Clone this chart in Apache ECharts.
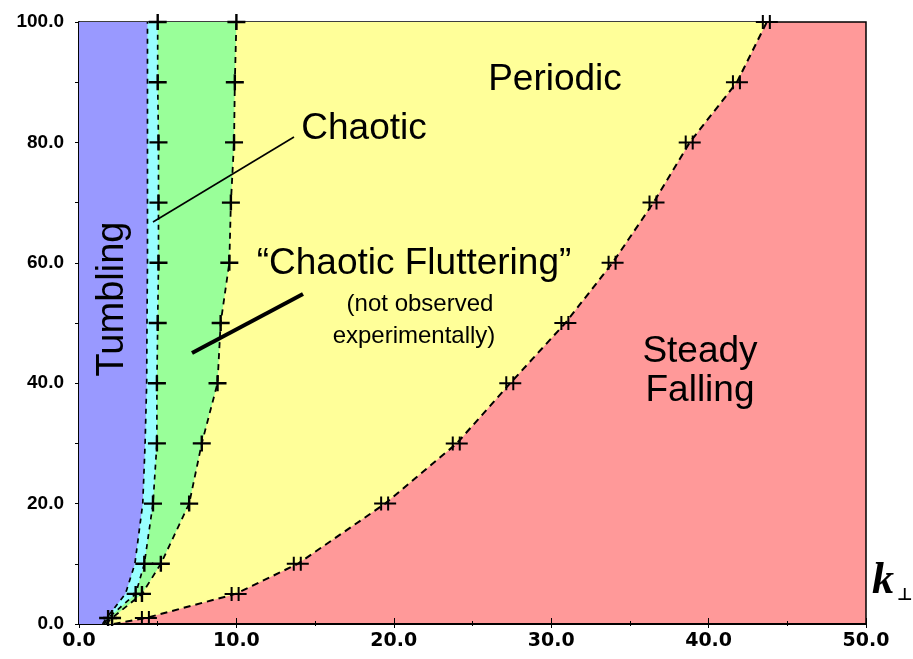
<!DOCTYPE html>
<html>
<head>
<meta charset="utf-8">
<script src="https://cdn.jsdelivr.net/npm/echarts@6/dist/echarts.min.js"></script>
<style>
html, body { margin: 0; padding: 0; background: #fff; }
#main { width: 913px; height: 659px; }
</style>
</head>
<body>
<div id="main"></div>
<script>
// y levels at which the regime boundaries were measured
var levels = [0, 1, 5, 10, 20, 30, 40, 50, 60, 70, 80, 90, 100];
// k_perp of each boundary at those levels
var tumblingEdge = [1.5, 1.75, 2.95, 3.55, 4.05, 4.2, 4.3, 4.32, 4.35, 4.35, 4.35, 4.35, 4.35];
var chaoticEdge = [1.6, 1.85, 3.6, 4.15, 4.7, 4.95, 4.95, 5.0, 5.05, 5.05, 5.05, 5.0, 5.0];
var flutterEdge = [1.7, 2.1, 4.0, 5.2, 7.0, 7.8, 8.8, 9.0, 9.55, 9.65, 9.85, 9.9, 10.0];
var periodicEdge = [2.2, 4.25, 9.95, 13.9, 19.45, 24.0, 27.4, 30.9, 33.9, 36.5, 38.8, 41.8, 43.7];

var FONT = 'Liberation Sans, Arial, sans-serif';

function pairs(xs) {
  return xs.map(function (x, i) { return [x, levels[i]]; });
}

// filled area left of a boundary curve
function region(edge, color, z) {
  return {
    type: 'custom',
    coordinateSystem: 'cartesian2d',
    silent: true,
    z: z,
    data: [[0, 0]],
    renderItem: function (params, api) {
      var pts = pairs(edge).map(function (p) { return api.coord(p); });
      pts.push(api.coord([0, 100]));
      pts.push(api.coord([0, 0]));
      return { type: 'polygon', shape: { points: pts }, style: { fill: color } };
    }
  };
}

function dashed(edge, width, dash) {
  return {
    type: 'line',
    data: pairs(edge),
    symbol: 'none',
    silent: true,
    z: 10,
    lineStyle: { color: '#000', width: width, type: dash }
  };
}

var singleCross = 'path://M0,6.8H18V9.2H0Z M7.8,0H10.2V16H7.8Z';
var doubleCross = 'path://M0,6H22V8H0Z M6,0H8V14H6Z M13,0H15V14H13Z';

function marks(edge, symbol, size) {
  return {
    type: 'scatter',
    data: pairs(edge).slice(1),
    symbol: symbol,
    symbolSize: size,
    silent: true,
    clip: false,
    z: 12,
    itemStyle: { color: '#000', opacity: 1 }
  };
}

var chart = echarts.init(document.getElementById('main'));

function fmt(v) { return v.toFixed(1); }

var option = {
  animation: false,
  backgroundColor: '#fff',
  grid: {
    left: 79, right: 47, top: 22, bottom: 35,
    show: true,
    backgroundColor: '#FF9999',
    borderColor: '#000',
    borderWidth: 1.5
  },
  xAxis: [{
    type: 'value', min: 0, max: 50, interval: 10,
    axisLine: { show: true, lineStyle: { color: '#000', width: 1.5 } },
    axisTick: { inside: true, length: 6, lineStyle: { color: '#000' } },
    minorTick: { show: true, splitNumber: 2, length: 3, lineStyle: { color: '#000' } },
    splitLine: { show: false },
    axisLabel: { margin: 8, color: '#000', fontFamily: 'DejaVu Sans', fontSize: 19, fontWeight: 'bold', formatter: fmt }
  }, {
    type: 'value', position: 'top', min: 0, max: 50, interval: 10,
    axisLine: { show: true, lineStyle: { color: '#000', width: 2 } },
    axisTick: { inside: true, length: 4, lineStyle: { color: '#000' } },
    minorTick: { show: true, splitNumber: 2, length: 2, lineStyle: { color: '#000' } },
    splitLine: { show: false },
    axisLabel: { show: false }
  }],
  yAxis: [{
    type: 'value', min: 0, max: 100, interval: 20,
    axisLine: { show: true, lineStyle: { color: '#000', width: 1.5 } },
    axisTick: { inside: true, length: 4, lineStyle: { color: '#000' } },
    minorTick: { show: true, splitNumber: 2, length: 4, lineStyle: { color: '#000' } },
    splitLine: { show: false },
    axisLabel: { margin: 15, color: '#000', fontFamily: FONT, fontSize: 19, fontWeight: 'bold', formatter: fmt }
  }, {
    type: 'value', position: 'right', min: 0, max: 100, interval: 20,
    axisLine: { show: true, lineStyle: { color: '#000', width: 1.5 } },
    axisTick: { inside: true, length: 4, lineStyle: { color: '#000' } },
    minorTick: { show: true, splitNumber: 2, length: 4, lineStyle: { color: '#000' } },
    splitLine: { show: false },
    axisLabel: { show: false }
  }],
  series: [
    region(periodicEdge, '#FFFF99', 1),
    region(flutterEdge, '#99FF99', 2),
    region(chaoticEdge, '#99FFFF', 3),
    region(tumblingEdge, '#9999FF', 4),
    dashed(tumblingEdge, 1.7, [5, 5]),
    dashed(chaoticEdge, 1.7, [5, 5]),
    dashed(flutterEdge, 1.8, [6, 5]),
    dashed(periodicEdge, 2, [7, 5]),
    marks(chaoticEdge, singleCross, [18, 16]),
    marks(flutterEdge, singleCross, [18, 16]),
    marks(periodicEdge, doubleCross, [22, 14])
  ],
  graphic: [
    { type: 'text', z: 100, x: 555, y: 80,
      style: { text: 'Periodic', font: '37px ' + FONT, fill: '#000', align: 'center', verticalAlign: 'middle' } },
    { type: 'text', z: 100, x: 364, y: 129,
      style: { text: 'Chaotic', font: '37px ' + FONT, fill: '#000', align: 'center', verticalAlign: 'middle' } },
    { type: 'text', z: 100, x: 414, y: 264,
      style: { text: '\u201CChaotic Fluttering\u201D', font: '37px ' + FONT, fill: '#000', align: 'center', verticalAlign: 'middle' } },
    { type: 'text', z: 100, x: 420, y: 304,
      style: { text: '(not observed', font: '24px ' + FONT, fill: '#000', align: 'center', verticalAlign: 'middle' } },
    { type: 'text', z: 100, x: 414, y: 336,
      style: { text: 'experimentally)', font: '24px ' + FONT, fill: '#000', align: 'center', verticalAlign: 'middle' } },
    { type: 'text', z: 100, x: 700, y: 352,
      style: { text: 'Steady', font: '37px ' + FONT, fill: '#000', align: 'center', verticalAlign: 'middle' } },
    { type: 'text', z: 100, x: 700, y: 391,
      style: { text: 'Falling', font: '37px ' + FONT, fill: '#000', align: 'center', verticalAlign: 'middle' } },
    { type: 'text', z: 100, x: 113, y: 299, rotation: Math.PI / 2,
      style: { text: 'Tumbling', font: '38px ' + FONT, fill: '#000', align: 'center', verticalAlign: 'middle' } },
    { type: 'text', z: 100, x: 872, y: 604,
      style: { text: 'k', font: 'italic bold 44px Liberation Serif, serif', fill: '#000', align: 'left', verticalAlign: 'bottom' } },
    { type: 'text', z: 100, x: 897, y: 604,
      style: { text: '\u22A5', font: 'bold 17px DejaVu Sans, sans-serif', fill: '#000', align: 'left', verticalAlign: 'bottom' } },
    { type: 'line', z: 100, shape: { x1: 153, y1: 222, x2: 294, y2: 137 },
      style: { stroke: '#000', lineWidth: 1.6 } },
    { type: 'line', z: 100, shape: { x1: 192, y1: 353, x2: 303, y2: 294 },
      style: { stroke: '#000', lineWidth: 4 } }
  ]
};

chart.setOption(option);
</script>
</body>
</html>
